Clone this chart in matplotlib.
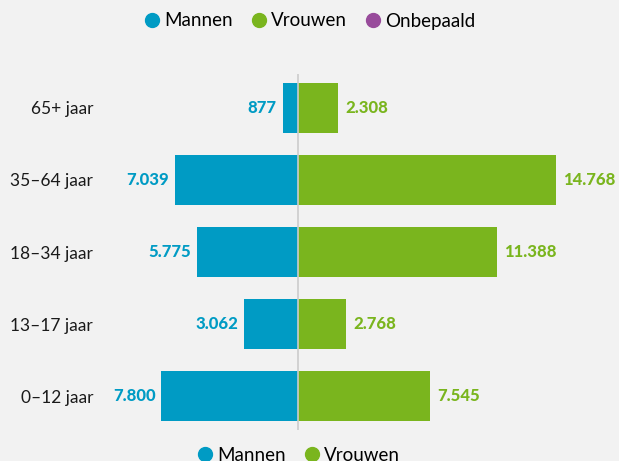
import matplotlib.pyplot as plt
from matplotlib.lines import Line2D
from matplotlib.transforms import offset_copy

categories = ["0–12 jaar", "13–17 jaar", "18–34 jaar", "35–64 jaar", "65+ jaar"]
mannen = [7800, 3062, 5775, 7039, 877]
vrouwen = [7545, 2768, 11388, 14768, 2308]
labels_mannen = ["7.800", "3.062", "5.775", "7.039", "877"]
labels_vrouwen = ["7.545", "2.768", "11.388", "14.768", "2.308"]

BLUE = "#009BC4"
GREEN = "#7AB51E"
PURPLE = "#984B9B"
BG = "#F2F2F2"

plt.rcParams["font.family"] = ["Lato", "DejaVu Sans"]

fig = plt.figure(figsize=(6.19, 4.61), dpi=100, facecolor=BG)
ax = fig.add_axes([100 / 619, 1 - 430 / 461, 519 / 619, (430 - 74) / 461])
ax.set_facecolor(BG)

y = list(range(len(categories)))
ax.barh(y, [-m for m in mannen], height=0.69, color=BLUE, linewidth=0)
ax.barh(y, vrouwen, height=0.69, color=GREEN, linewidth=0)
ax.axvline(0, color="#CCCCCC", linewidth=1.2, zorder=3)

ax.set_xlim(-11314, 18343)
ax.set_ylim(-0.47, 4.47)

for yi, m, lab in zip(y, mannen, labels_mannen):
    ax.text(-m, yi, lab, transform=offset_copy(ax.transData, fig=fig, x=-6, y=0, units="dots"),
            ha="right", va="center", color=BLUE, fontsize=12, fontweight="black")
for yi, v, lab in zip(y, vrouwen, labels_vrouwen):
    ax.text(v, yi, lab, transform=offset_copy(ax.transData, fig=fig, x=7, y=0, units="dots"),
            ha="left", va="center", color=GREEN, fontsize=12, fontweight="black")

ax.set_yticks(y)
ax.set_yticklabels(categories, fontsize=12.5, color="#1A1A1A")
ax.tick_params(axis="y", length=0, pad=5)
ax.set_xticks([])
for s in ax.spines.values():
    s.set_visible(False)

def handle(c):
    return Line2D([], [], marker="o", linestyle="none", markersize=10,
                  markerfacecolor=c, markeredgecolor=c)

top = fig.legend([handle(BLUE), handle(GREEN), handle(PURPLE)],
                 ["Mannen", "Vrouwen", "Onbepaald"],
                 loc="center", bbox_to_anchor=(309 / 619, 1 - 21 / 461), ncol=3,
                 frameon=False, fontsize=13.5, handletextpad=0.15, columnspacing=0.9,
                 handlelength=1.0)
bottom = fig.legend([handle(BLUE), handle(GREEN)], ["Mannen", "Vrouwen"],
                    loc="center", bbox_to_anchor=(298 / 619, 1 - 455 / 461), ncol=2,
                    frameon=False, fontsize=13.5, handletextpad=0.15, columnspacing=0.9,
                    handlelength=1.0)

fig.savefig("out.png", dpi=100, facecolor=BG)
